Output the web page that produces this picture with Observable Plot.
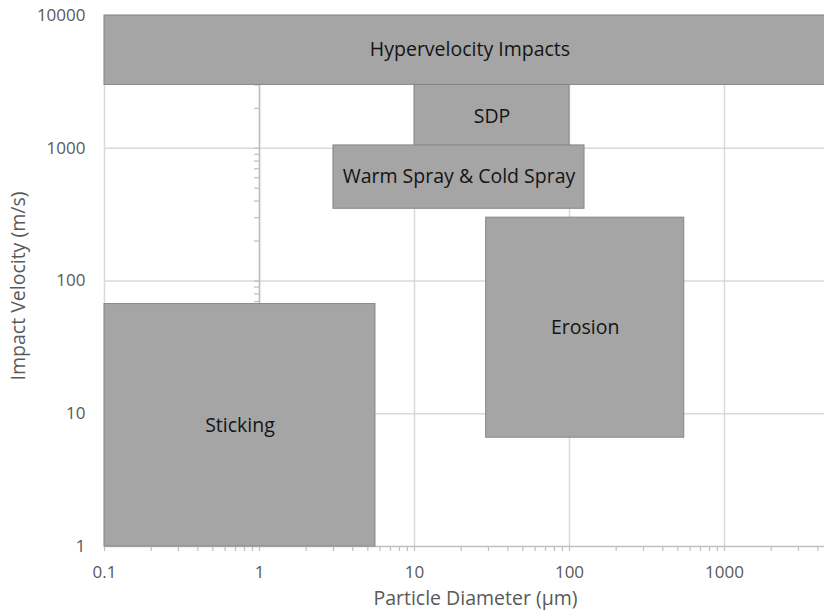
<!DOCTYPE html>
<html>
<head>
<meta charset="utf-8">
<script src="https://cdn.jsdelivr.net/npm/d3@7"></script>
<script src="https://cdn.jsdelivr.net/npm/@observablehq/plot@0.6"></script>
<style>
  html, body { margin: 0; padding: 0; background: white; overflow: hidden; }
  #chart { width: 824px; height: 614px; overflow: hidden; }
</style>
</head>
<body>
<div id="chart"></div>
<script>
// Regions (particle diameter in µm, impact velocity in m/s)
const regions = ["Hypervelocity Impacts", "SDP", "Warm Spray & Cold Spray", "Erosion", "Sticking"];
const dMin = [0.1, 10, 3, 29, 0.1];
const dMax = [5200, 100, 125, 550, 5.6];
const vMin = [3000, 1000, 350, 6.6, 1];
const vMax = [10000, 3000, 1050, 300, 67];

// Axis ticks
const xTicks = [0.1, 1, 10, 100, 1000];
const yTicks = [1, 10, 100, 1000, 10000];
const xGrid = [0.1, 1, 10, 100, 1000, 10000];
const yGrid = [10, 100, 1000, 10000];
const minorMultipliers = [1, 2, 3, 4, 5, 6, 7, 8, 9];
const xMinor = xTicks.flatMap(d => minorMultipliers.map(m => d * m));
const yMinor = yTicks.slice(0, 4).flatMap(d => minorMultipliers.map(m => d * m));

const xLabel = "Particle Diameter (µm)";
const yLabel = "Impact Velocity (m/s)";

const table = regions.map((name, i) => ({
  name, x1: dMin[i], x2: dMax[i], y1: vMin[i], y2: vMax[i],
  cx: Math.sqrt(dMin[i] * dMax[i]), cy: Math.sqrt(vMin[i] * vMax[i])
}));

const gridColor = "#d9d9d9";
const axisColor = "#bfbfbf";
const labelColor = "#595959";

const chart = Plot.plot({
  width: 824,
  height: 614,
  marginLeft: 104,
  marginRight: -55,
  marginTop: 15,
  marginBottom: 68,
  x: { type: "log", domain: [0.1, 10000] },
  y: { type: "log", domain: [1, 10000] },
  style: { fontFamily: "'Open Sans', sans-serif", fontSize: "17px", background: "white", overflow: "hidden" },
  marks: [
    Plot.ruleX(xGrid, { stroke: gridColor, strokeWidth: 1.5 }),
    Plot.ruleY(yGrid, { stroke: gridColor, strokeWidth: 1.5 }),
    // axis lines: vertical axis crosses at x = 1, horizontal at y = 1
    Plot.ruleX([1], { stroke: axisColor, strokeWidth: 1.5 }),
    Plot.ruleY([1], { stroke: axisColor, strokeWidth: 1.5 }),
    Plot.ruleY(yMinor, { x1: 1, x2: 1, insetLeft: -5, stroke: axisColor, strokeWidth: 1.2 }),
    Plot.ruleX(xMinor, { y1: 1, y2: 1, insetBottom: -5, stroke: axisColor, strokeWidth: 1.2 }),
    Plot.rect(table, { x1: "x1", x2: "x2", y1: "y1", y2: "y2", fill: "#a5a5a5", stroke: "#868686", strokeWidth: 1 }),
    Plot.text(table, { x: "cx", y: "cy", text: "name", fill: "#141414", fontSize: 19.5 }),
    Plot.axisY(yTicks, { tickSize: 0, tickPadding: 19, tickFormat: d => String(d), fill: labelColor, label: null }),
    Plot.axisX(xTicks, { tickSize: 0, tickPadding: 19, tickFormat: d => String(d), fill: labelColor, label: null }),
    Plot.text([xLabel], { frameAnchor: "bottom", textAnchor: "middle", lineAnchor: "middle", dx: -16.5, dy: 52, fill: labelColor, fontSize: 19.5 }),
    Plot.text([yLabel], { frameAnchor: "left", textAnchor: "middle", lineAnchor: "middle", rotate: -90, dx: -86, dy: 5, fill: labelColor, fontSize: 19.5 })
  ]
});
document.getElementById("chart").appendChild(chart);
</script>
</body>
</html>
